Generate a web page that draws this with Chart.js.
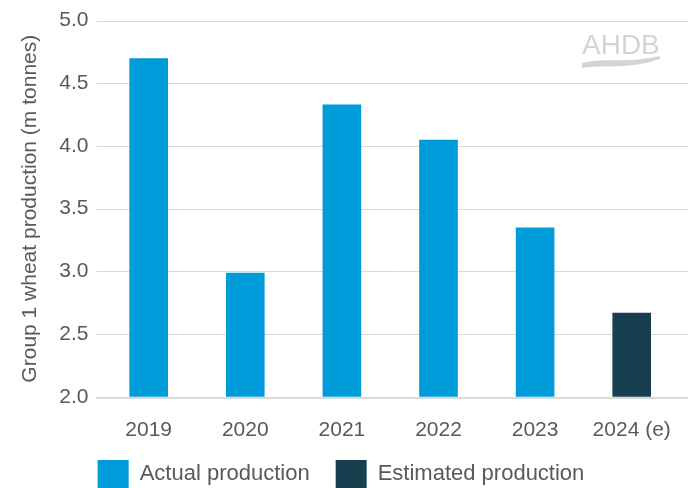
<!DOCTYPE html>
<html>
<head>
<meta charset="utf-8">
<script src="https://cdn.jsdelivr.net/npm/chart.js@4"></script>
<style>
  html, body { margin: 0; padding: 0; background: #fff; }
  #wrap { width: 688px; height: 488px; position: relative; }
</style>
</head>
<body>
<div id="wrap"><canvas id="chart"></canvas></div>
<script>
// Group 1 wheat production, 2019-2024 (e)
const years = ['2019', '2020', '2021', '2022', '2023', '2024 (e)'];
const actual = [4.70, 2.99, 4.33, 4.05, 3.35, null];
const estimated = [null, null, null, null, null, 2.67];
const yTicks = [2.0, 2.5, 3.0, 3.5, 4.0, 4.5, 5.0];

const FONT = "'Liberation Sans', Arial, sans-serif";
const TEXT = '#595959';
const GRID = '#d9d9d9';
const X_SQUEEZE = 30;

// grid lines run past the plot area to the right edge, as in the original
const gridPlugin = {
  id: 'fullGrid',
  afterLayout(chart) {
    // x labels overlap the legend's top padding; keep them unclipped
    chart.scales.x.bottom += X_SQUEEZE;
    // nudge legend a little left
    chart.legend.left -= 4;
    chart.legend.right -= 4;
  },
  beforeDatasetsDraw(chart) {
    const ctx = chart.ctx;
    const y = chart.scales.y;
    const x0 = chart.chartArea.left - 4;
    const x1 = chart.width;
    ctx.save();
    ctx.strokeStyle = GRID;
    y.ticks.forEach((t) => {
      const py = Math.round(y.getPixelForValue(t.value));
      const base = t.value === y.min;
      ctx.lineWidth = base ? 2 : 1;
      ctx.beginPath();
      ctx.moveTo(x0, base ? py + 1 : py + 0.5);
      ctx.lineTo(x1, base ? py + 1 : py + 0.5);
      ctx.stroke();
    });
    ctx.restore();
  },
};

// faint AHDB mark in the top right corner
const logoPlugin = {
  id: 'logo',
  afterDraw(chart) {
    const ctx = chart.ctx;
    ctx.save();
    ctx.fillStyle = '#d4d4d4';
    ctx.font = `28px ${FONT}`;
    ctx.textAlign = 'left';
    ctx.textBaseline = 'alphabetic';
    ctx.fillText('AHDB', 582, 54);
    ctx.beginPath();
    ctx.moveTo(582, 63);
    ctx.bezierCurveTo(605, 57, 625, 64, 660, 56);
    ctx.lineTo(660, 59);
    ctx.bezierCurveTo(628, 70, 605, 64, 582, 68);
    ctx.closePath();
    ctx.fill();
    ctx.restore();
  },
};

new Chart(document.getElementById('chart'), {
  type: 'bar',
  data: {
    labels: years,
    datasets: [
      {
        label: 'Actual production',
        data: actual,
        backgroundColor: '#009bd9',
        barPercentage: 0.8,
        categoryPercentage: 0.5,
        skipNull: true,
      },
      {
        label: 'Estimated production',
        data: estimated,
        backgroundColor: '#173f4f',
        barPercentage: 0.8,
        categoryPercentage: 0.5,
        skipNull: true,
      },
    ],
  },
  options: {
    responsive: true,
    maintainAspectRatio: false,
    animation: false,
    layout: { padding: { top: 14, right: 8, left: 10, bottom: -10 } },
    scales: {
      x: {
        grid: { display: false, drawTicks: false },
        border: { display: false },
        ticks: { color: TEXT, font: { family: FONT, size: 21 }, padding: 21 },
        afterFit: (scale) => {
          scale.height -= X_SQUEEZE;
          scale.paddingLeft = 0;
          scale.paddingRight = 0;
        },
      },
      y: {
        min: 2.0,
        max: 5.0,
        afterBuildTicks: (axis) => { axis.ticks = yTicks.map((v) => ({ value: v })); },
        grid: { display: false, tickLength: 4 },
        border: { display: false },
        ticks: {
          color: TEXT,
          font: { family: FONT, size: 21 },
          padding: 8,
          callback: (v) => Number(v).toFixed(1),
        },
        title: {
          display: true,
          text: 'Group 1 wheat production (m tonnes)',
          color: TEXT,
          font: { family: FONT, size: 21 },
          padding: { top: 8, bottom: 8 },
        },
      },
    },
    plugins: {
      legend: {
        position: 'bottom',
        align: 'center',
        labels: {
          color: TEXT,
          font: { family: FONT, size: 22 },
          boxWidth: 31,
          boxHeight: 28,
          padding: 26,
        },
      },
      tooltip: { enabled: false },
    },
  },
  plugins: [gridPlugin, logoPlugin],
});
</script>
</body>
</html>
